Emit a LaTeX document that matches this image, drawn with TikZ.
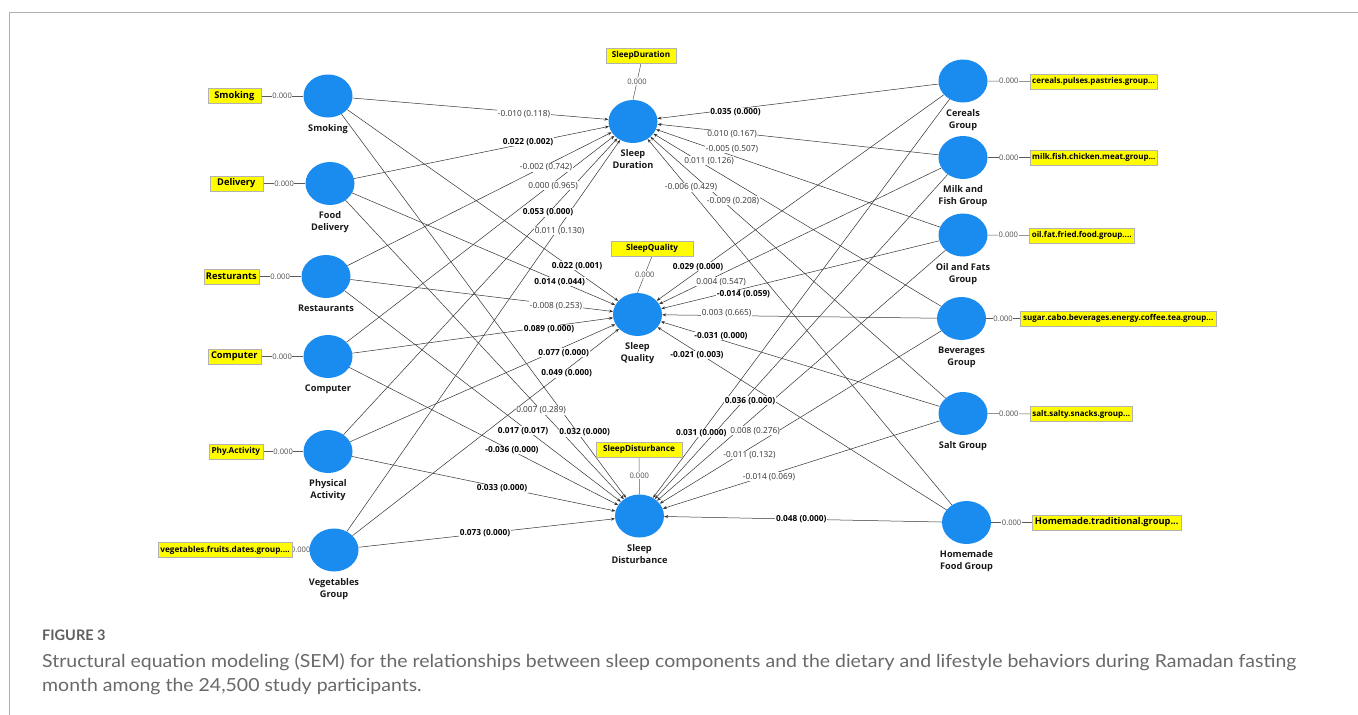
\documentclass[tikz,border=0pt]{standalone}
\usepackage{fontspec}
\setmainfont{Open Sans}
\newfontfamily\capfont{Lato}
\usetikzlibrary{shapes.geometric,arrows.meta}
\definecolor{semblue}{RGB}{26,140,240}
\definecolor{boxyel}{RGB}{255,252,0}
\definecolor{capgray}{RGB}{105,105,105}
\definecolor{figgray}{RGB}{95,95,95}
\definecolor{framegray}{RGB}{175,175,175}
\pgfdeclarelayer{edges}
\pgfdeclarelayer{labels}
\pgfsetlayers{edges,labels,main}
\newlength\caplen
\tikzset{
  semcirc/.style={ellipse, fill=semblue, minimum width=49pt, minimum height=43pt, inner sep=0pt},
  nodename/.style={font=\fontsize{9.2}{12}\selectfont\bfseries, align=center, text=black!90, inner sep=0.5pt, anchor=north},
  ybox/.style={fill=boxyel, draw=black!30, line width=0.4pt, inner xsep=2pt, inner ysep=1.5pt, minimum height=15pt, font=\fontsize{9.3}{10}\selectfont\bfseries, text=black},
  yboxs/.style={ybox, font=\fontsize{8.2}{10}\selectfont\bfseries},
  yboxr/.style={ybox, font=\fontsize{8}{10}\selectfont\bfseries, anchor=west},
  zerolab/.style={font=\fontsize{7.6}{9}\selectfont, text=black!70, fill=white, inner sep=0.6pt},
  latline/.style={draw=black!65, line width=0.5pt},
  edgeline/.style={draw=black!80, line width=0.5pt, -{Stealth[length=4pt,width=3pt]}},
  labn/.style={font=\fontsize{8.3}{10}\selectfont, text=black!80, fill=white, inner sep=0.6pt},
  labb/.style={font=\fontsize{8.3}{10}\selectfont\bfseries, text=black, fill=white, inner sep=0.6pt},
}
\newcommand\semedge[2]{\begin{pgfonlayer}{edges}\draw[edgeline] (#1) -- (#2);\end{pgfonlayer}}
\begin{document}
\begin{tikzpicture}[x=1pt,y=-1pt]
\useasboundingbox (0,0) rectangle (1358,715);
\begin{pgfonlayer}{edges}
\fill[white] (0,0) rectangle (1358,715);
\end{pgfonlayer}
\draw[framegray, line width=1pt] (9,715) -- (9,12) -- (1358,12);

% ---------- left column ----------
\node[semcirc] (S) at (328,96) {};
\node[semcirc] (D) at (330,183.5) {};
\node[semcirc] (R) at (326,276.5) {};
\node[semcirc] (C) at (328,356.5) {};
\node[semcirc] (P) at (328,451.5) {};
\node[semcirc] (V) at (334,550) {};
\node[nodename] (Sn) at ([yshift=-6pt]S.south) {Smoking};
\node[nodename] (Dn) at ([yshift=-6pt]D.south) {Food\\Delivery};
\node[nodename] (Rn) at ([yshift=-6pt]R.south) {Restaurants};
\node[nodename] (Cn) at ([yshift=-6pt]C.south) {Computer};
\node[nodename] (Pn) at ([yshift=-6pt]P.south) {Physical\\Activity};
\node[nodename] (Vn) at ([yshift=-6pt]V.south) {Vegetables\\Group};
\node[ybox, anchor=east, minimum width=53pt] (Sb) at (261,96) {Smoking};
\node[ybox, anchor=east, minimum width=53pt] (Db) at (263,183.5) {Delivery};
\node[ybox, anchor=east, minimum width=53pt] (Rb) at (259,276.5) {Resturants};
\node[ybox, anchor=east, minimum width=53pt] (Cb) at (261,356.5) {Computer};
\node[yboxs, anchor=east, minimum width=54pt] (Pb) at (263,451.5) {Phy.Activity};
\node[yboxs, anchor=east] (Vb) at (292,550) {vegetables.fruits.dates.group....};

% ---------- middle column ----------
\node[semcirc] (SDu) at (633,121.5) {};
\node[semcirc] (SQ) at (637.5,314.5) {};
\node[semcirc] (SDi) at (639.5,516) {};
\node[nodename] (SDun) at ([yshift=-6pt]SDu.south) {Sleep\\Duration};
\node[nodename] (SQn) at ([yshift=-6pt]SQ.south) {Sleep\\Quality};
\node[nodename] (SDin) at ([yshift=-6pt]SDi.south) {Sleep\\Disturbance};
\node[yboxs, minimum width=70pt] (SDub) at (641,55.5) {SleepDuration};
\node[yboxs, minimum width=82pt] (SQb) at (652,248.5) {SleepQuality};
\node[yboxs, minimum width=86pt] (SDib) at (639,449.5) {SleepDisturbance};

% ---------- right column ----------
\node[semcirc] (Ce) at (963,81) {};
\node[semcirc] (Mi) at (963,157.5) {};
\node[semcirc] (Oi) at (963,235) {};
\node[semcirc] (Be) at (961.5,318.5) {};
\node[semcirc] (Sa) at (963,413.5) {};
\node[semcirc] (Ho) at (966.5,522.5) {};
\node[nodename] (Cen) at ([yshift=-6pt]Ce.south) {Cereals\\Group};
\node[nodename] (Min) at ([yshift=-6pt]Mi.south) {Milk and\\Fish Group};
\node[nodename] (Oin) at ([yshift=-6pt]Oi.south) {Oil and Fats\\Group};
\node[nodename] (Ben) at ([yshift=-6pt]Be.south) {Beverages\\Group};
\node[nodename] (San) at ([yshift=-6pt]Sa.south) {Salt Group};
\node[nodename] (Hon) at ([yshift=-6pt]Ho.south) {Homemade\\Food Group};
\node[yboxr, minimum width=126pt] (Ceb) at (1030,81.5) {cereals.pulses.pastries.group...};
\node[yboxr, minimum width=127pt] (Mib) at (1030,157.5) {milk.fish.chicken.meat.group...};
\node[yboxr, minimum width=105pt] (Oib) at (1029,235.5) {oil.fat.fried.food.group....};
\node[yboxr, minimum width=196pt] (Beb) at (1020,318.5) {sugar.cabo.beverages.energy.coffee.tea.group...};
\node[yboxr, minimum width=102pt] (Sab) at (1030,414) {salt.salty.snacks.group...};
\node[ybox, anchor=west, minimum width=149pt] (Hob) at (1032,522.5) {Homemade.traditional.group...};

% ---------- indicator connectors ----------
\begin{pgfonlayer}{edges}
\foreach \b/\c in {Sb/S,Db/D,Rb/R,Cb/C,Pb/P,Vb/V}{\draw[latline] (\b.east) -- (\c.west);}
\foreach \b/\c in {SDub/SDu,SQb/SQ,SDib/SDi}{\draw[latline] (\b.south) -- (\c.north);}
\foreach \b/\c in {Ceb/Ce,Mib/Mi,Oib/Oi,Beb/Be,Sab/Sa,Hob/Ho}{\draw[latline] (\c.east) -- (\b.west);}
\end{pgfonlayer}
\begin{pgfonlayer}{labels}
\foreach \b/\c in {Sb/S,Db/D,Rb/R,Cb/C,Pb/P,Vb/V}{\path (\b.east) -- node[zerolab] (z\c) {0.000} (\c.west);}
\foreach \b/\c in {SDub/SDu,SQb/SQ,SDib/SDi}{\path (\b.south) -- node[zerolab] (z\c) {0.000} (\c.north);}
\foreach \b/\c in {Ceb/Ce,Mib/Mi,Oib/Oi,Beb/Be,Sab/Sa,Hob/Ho}{\path (\c.east) -- node[zerolab] (z\c) {0.000} (\b.west);}
\end{pgfonlayer}

% ---------- structural paths ----------
\foreach \s in {S,D,R,C,P,V,Ce,Mi,Oi,Be,Sa,Ho}{
  \semedge{\s}{SDu}
  \semedge{\s}{SQ}
  \semedge{\s}{SDi}
}

\begin{pgfonlayer}{labels}
% to Sleep Duration
\node[labn] (e1) at (524,114) {-0.010 (0.118)};
\node[labb] (e2) at (528,141.7) {0.022 (0.002)};
\node[labn] (e3) at (546,167.3) {-0.002 (0.742)};
\node[labn] (e4) at (553,185.7) {0.000 (0.965)};
\node[labb] (e5) at (548,212.3) {0.053 (0.000)};
\node[labn] (e6) at (559.5,231) {0.011 (0.130)};
\node[labb] (e7) at (735.5,112.3) {0.035 (0.000)};
\node[labn] (e8) at (732,134) {0.010 (0.167)};
\node[labn] (e9) at (732,149) {-0.005 (0.507)};
\node[labn] (e10) at (709,160.7) {0.011 (0.126)};
\node[labn] (e11) at (733,200.7) {-0.009 (0.208)};
\node[labn] (e12) at (691,187.3) {-0.006 (0.429)};
% to Sleep Quality
\node[labb] (q1) at (577,265.7) {0.022 (0.001)};
\node[labb] (q2) at (559.7,281.7) {0.014 (0.044)};
\node[labn] (q3) at (556,305.7) {-0.008 (0.253)};
\node[labb] (q4) at (549,329.3) {0.089 (0.000)};
\node[labb] (q5) at (563.7,352.7) {0.077 (0.000)};
\node[labb] (q6) at (566.7,373.3) {0.049 (0.000)};
\node[labb] (q7) at (698,266.7) {0.029 (0.000)};
\node[labn] (q8) at (721,281.7) {0.004 (0.547)};
\node[labb] (q9) at (743.5,294) {-0.014 (0.059)};
\node[labn] (q10) at (726.7,313.3) {0.003 (0.665)};
\node[labb] (q11) at (721,336) {-0.031 (0.000)};
\node[labb] (q12) at (697,355) {-0.021 (0.003)};
% to Sleep Disturbance
\node[labb] (d1) at (584.7,432.3) {0.032 (0.000)};
\node[labn] (d2) at (541,410.5) {0.007 (0.289)};
\node[labb] (d3) at (523,430.7) {0.017 (0.017)};
\node[labb] (d4) at (512,450) {-0.036 (0.000)};
\node[labb] (d5) at (502,488.3) {0.033 (0.000)};
\node[labb] (d6) at (485,533.3) {0.073 (0.000)};
\node[labb] (d7) at (701.3,433) {0.031 (0.000)};
\node[labb] (d8) at (750,400.7) {0.036 (0.000)};
\node[labn] (d9) at (755,430.7) {0.008 (0.276)};
\node[labn] (d10) at (749.5,455) {-0.011 (0.132)};
\node[labn] (d11) at (769,476.7) {-0.014 (0.069)};
\node[labb] (d12) at (801.3,519.3) {0.048 (0.000)};
\end{pgfonlayer}

% ---------- caption ----------
\node[anchor=base west, inner sep=0pt] (cap1) at (42,667) {\sbox0{\capfont\fontsize{18}{22}\selectfont\color{capgray}Structural equation modeling (SEM) for the relationships between sleep components and the dietary and lifestyle behaviors during Ramadan fasting}\setlength\caplen{\wd0}\pgfmathsetmacro\capsx{1254/\caplen}\global\let\capsxg\capsx\scalebox{\capsx}[1]{\usebox0}};
\node[anchor=base west, inner sep=0pt] (cap2) at (42,691) {\scalebox{\capsxg}[1]{\capfont\fontsize{18}{22}\selectfont\color{capgray}month among the 24,500 study participants.}};
\node[anchor=base west, inner sep=0pt] (fig) at (42,640) {\capfont\fontsize{14.5}{16}\selectfont\bfseries\color{figgray}FIGURE 3};
\end{tikzpicture}
\end{document}
